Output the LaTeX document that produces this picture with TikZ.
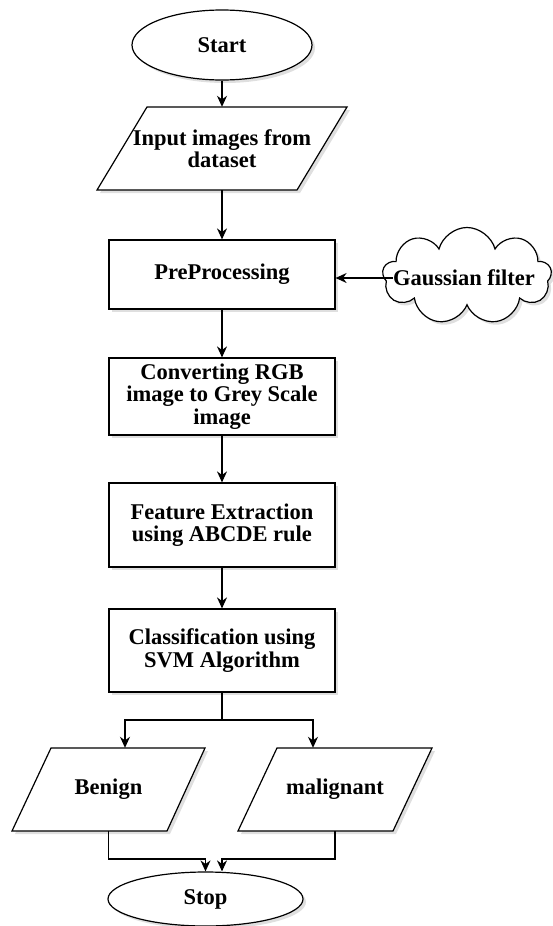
\documentclass[tikz,border=0pt]{standalone}
\usepackage{fontspec}
\setmainfont{Liberation Serif}
\usetikzlibrary{shapes.geometric,shapes.symbols,arrows.meta,shadows}
\begin{document}
\begin{tikzpicture}[x=1pt,y=-1pt,
        every node/.style={font=\fontsize{22.5}{22.5}\selectfont\bfseries, align=center, inner sep=0pt},
        shapebox/.style={draw, line width=1.2pt, fill=white, drop shadow={opacity=0.25, shadow xshift=3pt, shadow yshift=-3pt}},
        process/.style={shapebox, rectangle, minimum width=226pt},
        terminal/.style={shapebox, ellipse},
        arr/.style={-{Stealth[length=11pt,width=10pt]}, line width=1.2pt},
        link/.style={line width=1.2pt}]
    \useasboundingbox (0,0) rectangle (553,926);

    \draw[shapebox] (97,190) -- (147,107) -- (347,107) -- (297,190) -- cycle;
    \draw[shapebox] (12,831) -- (51,748) -- (205,748) -- (167,831) -- cycle;
    \draw[shapebox] (238,831) -- (277,748) -- (432,748) -- (393,831) -- cycle;

    \node[terminal, minimum width=180pt, minimum height=70pt] (start) at (222,45) {Start};
    \node[minimum height=83pt] (input) at (222,148.5) {Input images from\\dataset};
    \node[process, minimum height=69pt] (pre) at (222,274.5) {PreProcessing};
    \node[shapebox, cloud, cloud puffs=9, aspect=1.8, minimum width=169pt, minimum height=97pt] (gauss) at (467,276) {};
    \node (gausstext) at (464,278) {Gaussian filter};
    \node[process, minimum height=77pt] (conv) at (222,396.5) {Converting RGB\\image to Grey Scale\\image};
    \node[process, minimum height=84pt] (feat) at (222,525) {Feature Extraction\\using ABCDE rule};
    \node[process, minimum height=83pt] (cls) at (222,650.5) {Classification using\\SVM Algorithm};
    \node[minimum height=83pt] (benign) at (108.5,789.5) {Benign};
    \node[minimum height=83pt] (malig) at (335,789.5) {malignant};
    \node[terminal, minimum width=195pt, minimum height=54pt] (stop) at (205.5,899) {Stop};

    \coordinate (fork) at (222,720);
    \coordinate (forkL) at (125,720);
    \coordinate (forkR) at (313,720);
    \coordinate (joinL) at (205.5,859);
    \coordinate (joinR) at (222,859);

    \draw[arr] (start) -- (input);
    \draw[arr] (input) -- (pre);
    \draw[arr] (gausstext.west) -- (gausstext.west -| pre.east);
    \draw[arr] (pre) -- (conv);
    \draw[arr] (conv) -- (feat);
    \draw[arr] (feat) -- (cls);
    \draw[link] (cls.south) -- (fork);
    \draw[arr] (fork) -- (forkL) -- (forkL |- benign.north);
    \draw[arr] (fork) -- (forkR) -- (forkR |- malig.north);
    \draw[arr] (benign.south) |- (joinL) -- (stop.north);
    \draw[arr] (malig.south) |- (joinR) -- (joinR |- stop.north);
\end{tikzpicture}
\end{document}
